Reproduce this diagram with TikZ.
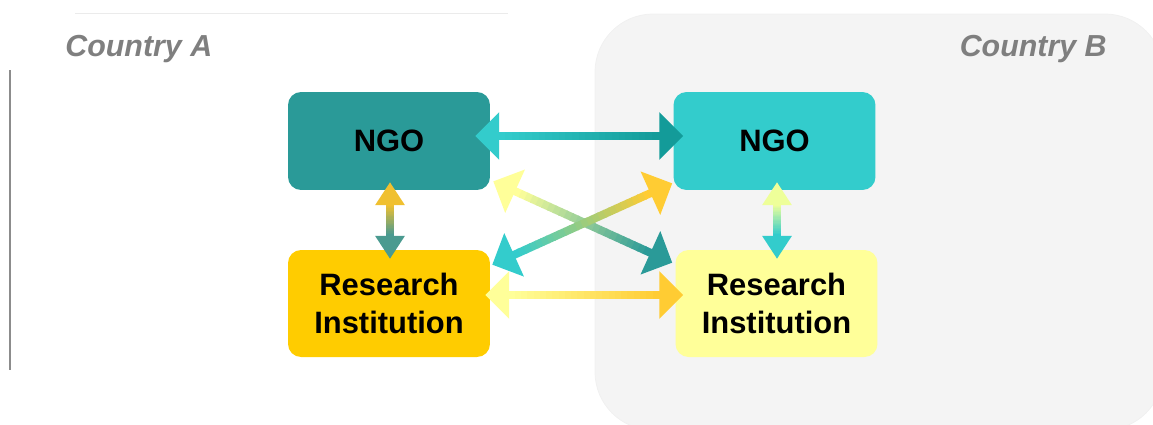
\documentclass[tikz,border=0pt]{standalone}
\usepackage{fontspec}
\setmainfont{Liberation Sans}
\usetikzlibrary{calc}

\definecolor{ngoA}{HTML}{2A9A98}
\definecolor{ngoB}{HTML}{33CCCC}
\definecolor{resA}{HTML}{FFCC00}
\definecolor{resB}{HTML}{FFFF99}
\definecolor{tealdk}{HTML}{139B99}
\definecolor{goldlt}{HTML}{FFCC33}
\definecolor{goldup}{HTML}{F0C030}
\definecolor{tealgr}{HTML}{4A9A90}
\definecolor{lemon}{HTML}{EEFF99}
\definecolor{countrybg}{HTML}{F4F4F4}
\definecolor{countrytx}{HTML}{7F7F7F}

\tikzset{
  box/.style={rounded corners=7.4pt, minimum width=4.04cm, inner sep=0pt, align=center,
    font=\fontsize{17.6}{21.5}\selectfont\bfseries},
  country/.style={text=countrytx, inner sep=0pt, font=\fontsize{17.3}{20}\selectfont\bfseries\itshape}
}

% #1,#2 tips, #3,#4 colours, #5 head length, #6 head half width, #7 shaft half width (pt)
\newcommand\gradarrow[7]{%
  \path let \p1=(#1), \p2=(#2) in
    \pgfextra{\pgfmathsetmacro\garang{atan2(\y2-\y1,\x2-\x1)}%
      \pgfmathsetmacro\garlen{veclen(\x2-\x1,\y2-\y1)}%
      \global\let\garang\garang\global\let\garlen\garlen};
  \begin{scope}[shift={(#1)}, rotate=\garang, x=1pt, y=1pt]
    \pgfmathsetmacro\garstep{(\garlen-2*#5)/24}
    \foreach \i in {0,...,23}{
      \pgfmathtruncatemacro\pct{100*\i/23}
      \fill[#4!\pct!#3] ({#5+\i*\garstep-0.3},-#7) rectangle ({#5+(\i+1)*\garstep+0.3},#7);
    }
    \fill[#3] (0,0) -- (#5,#6) -- (#5,-#6) -- cycle;
    \fill[#4] (\garlen,0) -- (\garlen-#5,#6) -- (\garlen-#5,-#6) -- cycle;
  \end{scope}
}

\begin{document}
\begin{tikzpicture}[x=0.02cm, y=-0.02cm]
  \useasboundingbox (0,0) rectangle (1153,424);
  \begin{scope}
    \clip (0,0) rectangle (1153,424);
    \draw[black!6, fill=countrybg, rounded corners=1.16cm] (595,14) rectangle (1163,430);
  \end{scope}
  \draw[black!8] (75,13) -- (508,13);
  \draw[black!45, line width=0.6pt] (10,70) -- (10,370);

  \node[country, anchor=west] (ctryA) at (65,49) {Country A};
  \node[country, anchor=east] (ctryB) at (1107,49) {Country B};

  \node[box, fill=ngoA, minimum height=1.96cm] (ngoa) at (389,141) {NGO};
  \node[box, fill=resA, minimum height=2.14cm] (resa) at (389,303.5) {Research\\Institution};
  \node[box, fill=ngoB, minimum height=1.96cm] (ngob) at (774.5,141) {NGO};
  \node[box, fill=resB, minimum height=2.14cm] (resb) at (776.5,303.5) {Research\\Institution};

  \coordinate (nnA) at ([shift={(-15,-5)}]ngoa.east);
  \coordinate (nnB) at ([shift={(10,-5)}]ngob.west);
  \coordinate (rrA) at ([shift={(-5,-8.5)}]resa.east);
  \coordinate (rrB) at ([shift={(8,-8.5)}]resb.west);
  \coordinate (nrA) at ([shift={(3,-9)}]ngoa.south east);
  \coordinate (nrB) at ([shift={(-3,13)}]resb.north west);
  \coordinate (rnA) at ([shift={(2,15)}]resa.north east);
  \coordinate (rnB) at ([shift={(-1,-7)}]ngob.south west);
  \coordinate (vaT) at ([shift={(1,-8)}]ngoa.south);
  \coordinate (vaB) at ([shift={(1,9)}]resa.north);
  \coordinate (vbT) at ([shift={(2.5,-8)}]ngob.south);
  \coordinate (vbB) at ([shift={(0.5,9)}]resb.north);

  \gradarrow{nnA}{nnB}{ngoB}{tealdk}{13.6}{13.6}{2.3}
  \gradarrow{nrA}{nrB}{resB}{ngoA}{13.6}{13.6}{2.3}
  \gradarrow{rnA}{rnB}{ngoB}{goldlt}{13.6}{13.6}{2.3}
  \gradarrow{rrA}{rrB}{resB}{goldlt}{13.6}{13.6}{2.3}
  \gradarrow{vaT}{vaB}{goldup}{tealgr}{13}{8.5}{2.3}
  \gradarrow{vbT}{vbB}{lemon}{ngoB}{13}{8.5}{2.3}
\end{tikzpicture}
\end{document}
